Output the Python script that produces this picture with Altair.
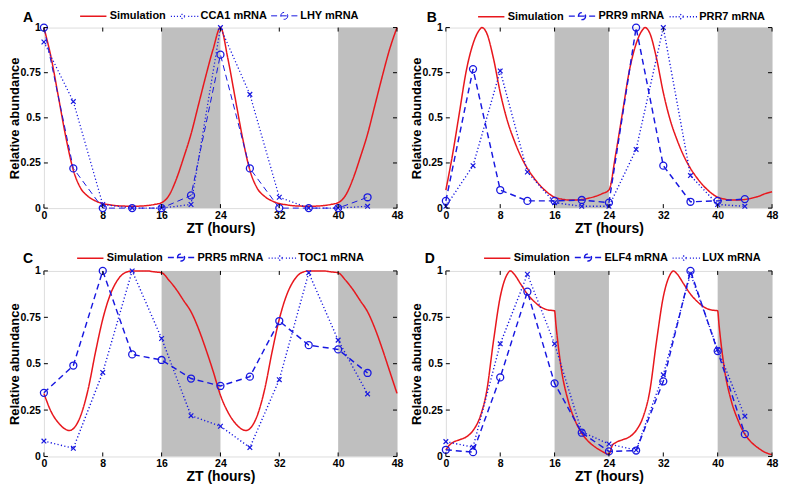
import altair as alt
import pandas as pd

# ---------------- data ----------------
ZT = [0, 4, 8, 12, 16, 20, 24, 28, 32, 36, 40, 44]
XTICKS = [0, 8, 16, 24, 32, 40, 48]
YTICKS = [0, 0.25, 0.5, 0.75, 1]
NIGHT_START = [16, 40]
NIGHT_END = [24, 48]

# Panel A
A_SIM_T = list(range(0, 49))
A_SIM_V = [1.0, 0.83, 0.61, 0.39, 0.21, 0.11, 0.065, 0.04, 0.025, 0.018, 0.013, 0.011, 0.01,
           0.011, 0.014, 0.02, 0.03, 0.07, 0.16, 0.28, 0.41, 0.57, 0.73, 0.88, 1.0,
           0.83, 0.61, 0.39, 0.21, 0.11, 0.065, 0.04, 0.025, 0.018, 0.013, 0.011, 0.01,
           0.011, 0.014, 0.02, 0.03, 0.07, 0.16, 0.28, 0.41, 0.57, 0.73, 0.88, 1.0]
A_CCA1 = [0.92, 0.59, 0.02, 0.0, 0.0, 0.02, 1.0, 0.63, 0.06, 0.0, 0.0, 0.01]
A_LHY = [1.0, 0.22, 0.0, 0.0, 0.0, 0.07, 0.85, 0.22, 0.0, 0.0, 0.0, 0.06]

# Panel B
B_SIM_T = [0, 1, 2, 3, 4, 5, 5.3, 6, 7, 8, 9, 10, 11, 12, 13, 14, 15, 16, 17, 18, 19, 20, 21, 22, 23,
           24, 25, 26, 27, 28, 29, 29.3, 30, 31, 32, 33, 34, 35, 36, 37, 38, 39, 40, 41, 42, 43, 44, 45, 46, 47, 48]
B_SIM_V = [0.10, 0.30, 0.53, 0.76, 0.91, 0.99, 1.0, 0.97, 0.83, 0.64, 0.49, 0.38, 0.29, 0.22, 0.165,
           0.12, 0.085, 0.06, 0.05, 0.045, 0.045, 0.048, 0.055, 0.065, 0.08,
           0.10, 0.30, 0.53, 0.76, 0.91, 0.99, 1.0, 0.97, 0.83, 0.64, 0.49, 0.38, 0.29, 0.22, 0.165,
           0.12, 0.085, 0.06, 0.05, 0.045, 0.045, 0.048, 0.055, 0.065, 0.08, 0.09]
B_PRR9 = [0.04, 0.77, 0.10, 0.04, 0.04, 0.045, 0.03, 1.0, 0.235, 0.035, 0.04, 0.05]
B_PRR7 = [0.01, 0.235, 0.76, 0.20, 0.03, 0.01, 0.01, 0.325, 1.0, 0.18, 0.02, 0.01]

# Panel C
C_SIM_T = [0, 1, 2, 3, 3.5, 4, 5, 6, 7, 8, 9, 10, 11, 12, 13, 14, 15, 16, 17, 18, 19, 20, 21, 22, 23,
           24, 25, 26, 27, 27.5, 28, 29, 30, 31, 32, 33, 34, 35, 36, 37, 38, 39, 40, 41, 42, 43, 44, 45, 46, 47, 48]
C_SIM_V = [0.34, 0.24, 0.18, 0.145, 0.14, 0.15, 0.22, 0.36, 0.56, 0.74, 0.87, 0.95, 0.99, 1.0, 1.0,
           1.0, 0.995, 0.99, 0.95, 0.9, 0.84, 0.78, 0.69, 0.58, 0.46,
           0.33, 0.24, 0.18, 0.145, 0.14, 0.15, 0.22, 0.36, 0.56, 0.74, 0.87, 0.95, 0.99, 1.0, 1.0,
           1.0, 0.995, 0.99, 0.95, 0.9, 0.84, 0.78, 0.69, 0.58, 0.46, 0.34]
C_PRR5 = [0.343, 0.49, 1.0, 0.55, 0.52, 0.42, 0.38, 0.43, 0.73, 0.60, 0.577, 0.45]
C_TOC1 = [0.083, 0.044, 0.453, 1.0, 0.636, 0.22, 0.163, 0.048, 0.414, 0.99, 0.627, 0.337]

# Panel D
D_SIM_T = [0, 0.5, 1, 2, 3, 4, 5, 6, 7, 8, 9, 9.5, 10, 11, 12, 13, 14, 15, 16, 16.2, 17, 18, 19, 20, 21, 22, 23,
           24, 24.5, 25, 26, 27, 28, 29, 30, 31, 32, 33, 33.5, 34, 35, 36, 37, 38, 39, 40, 40.2, 41, 42, 43, 44, 45, 46, 47, 48]
D_SIM_V = [0.035, 0.06, 0.075, 0.09, 0.105, 0.14, 0.21, 0.35, 0.62, 0.86, 0.98, 1.0, 0.985, 0.93, 0.875,
           0.835, 0.805, 0.79, 0.785, 0.71, 0.47, 0.30, 0.195, 0.125, 0.08, 0.05, 0.027,
           0.012, 0.06, 0.075, 0.09, 0.105, 0.14, 0.21, 0.35, 0.62, 0.86, 0.98, 1.0, 0.985, 0.93, 0.875,
           0.835, 0.805, 0.79, 0.785, 0.71, 0.47, 0.30, 0.195, 0.12, 0.075, 0.045, 0.022, 0.01]
D_ELF4 = [0.036, 0.023, 0.426, 0.888, 0.394, 0.128, 0.027, 0.032, 0.405, 1.0, 0.568, 0.12]
D_LUX = [0.08, 0.05, 0.607, 0.982, 0.607, 0.133, 0.067, 0.035, 0.44, 0.985, 0.577, 0.217]

# ---------------- styles ----------------
RED = "#e8171d"
BLUE = "#1818e0"
GRAY = "#bfbfbf"
FONT = "Liberation Sans"

X_PATH = "M-1,-1L1,1M-1,1L1,-1"

# legend symbol paths (unit = 5.5 px for size 121)
LEG_LINE = "M-2.4,0L2.4,0"
LEG_CIRC = ("M-2.4,0L-1.3,0M-0.64,0L0.64,0M1.3,0L2.4,0"
            "M0.64,0A0.64,0.64 0 1,1 -0.64,0A0.64,0.64 0 1,1 0.64,0")
_dots = "".join(f"M{a:.2f},0L{a + 0.2:.2f},0" for a in [-2.4, -1.85, -1.3, -0.75, 0.75, 1.3, 1.85, 2.4])
LEG_CROSS = _dots + "M-0.45,-0.45L0.45,0.45M-0.45,0.45L0.45,-0.45"


def panel(letter, sim_t, sim_v, circ_name, circ_v, cross_name, cross_v, order, W, H, lx, ly, let_x, let_y):
    sim_df = pd.DataFrame({"t": sim_t, "v": sim_v, "series": "Simulation"})
    dat_df = pd.concat([
        pd.DataFrame({"t": ZT, "v": circ_v, "series": circ_name}),
        pd.DataFrame({"t": ZT, "v": cross_v, "series": cross_name}),
    ])
    circ_df = pd.DataFrame({"t": ZT, "v": circ_v})
    cross_df = pd.DataFrame({"t": ZT, "v": cross_v})
    night_df = pd.DataFrame({"s": NIGHT_START, "e": NIGHT_END})
    xt_df = pd.DataFrame({"t": XTICKS})
    yt_df = pd.DataFrame({"v": YTICKS})

    common = dict(ticks=False, domain=False, grid=False, labelFlush=False, labelOverlap=False,
                  labelFont=FONT, labelFontSize=10.5, labelFontWeight="bold", labelColor="black",
                  titleFont=FONT, titleFontWeight="bold", titleColor="black")
    xscale = alt.Scale(domain=[0, 48], nice=False, zero=False)
    yscale = alt.Scale(domain=[0, 1], nice=False)
    xaxis = alt.Axis(values=XTICKS, title="ZT (hours)", labelPadding=2.5, titlePadding=0.5, titleFontSize=14, **common)
    yaxis = alt.Axis(values=YTICKS, title="Relative abundance", format=".2~f", labelPadding=3.5,
                     titlePadding=-1.9, titleFontSize=13, **common)
    X = alt.X("t:Q", scale=xscale, axis=xaxis)
    Y = alt.Y("v:Q", scale=yscale, axis=yaxis)

    dash_of = {"Simulation": [1, 0], circ_name: [6, 4], cross_name: [1.2, 2.3]}
    width_of = {"Simulation": 1.5, circ_name: 1.4, cross_name: 1.0}
    color_of = {"Simulation": RED, circ_name: BLUE, cross_name: BLUE}
    path_of = {"Simulation": LEG_LINE, circ_name: LEG_CIRC, cross_name: LEG_CROSS}

    shape_sig = (f"datum.value === '{order[0]}' ? '{path_of[order[0]]}' : "
                 f"(datum.value === '{order[1]}' ? '{path_of[order[1]]}' : '{path_of[order[2]]}')")
    sw_sig = (f"datum.value === '{order[0]}' ? {width_of[order[0]]} : "
              f"(datum.value === '{order[1]}' ? {width_of[order[1]]} : {width_of[order[2]]})")
    legend = alt.Legend(
        orient="none", legendX=lx, legendY=ly, direction="horizontal", title=None,
        labelFontSize=11, labelFontWeight="bold", labelFont=FONT, labelColor="black",
        symbolSize=121, labelOffset=10, columnPadding=1, padding=0,
        symbolType={"expr": shape_sig}, symbolStrokeWidth={"expr": sw_sig},
        symbolDash=[1, 0], symbolFillColor="transparent", symbolOpacity=1,
    )
    color = alt.Color("series:N", scale=alt.Scale(domain=order, range=[color_of[s] for s in order]), legend=legend)
    sdash = alt.StrokeDash("series:N", scale=alt.Scale(domain=order, range=[dash_of[s] for s in order]), legend=None)
    swidth = alt.StrokeWidth("series:N", scale=alt.Scale(domain=order, range=[width_of[s] for s in order]), legend=None)

    night = alt.Chart(night_df).mark_rect(color=GRAY).encode(
        x=alt.X("s:Q", scale=xscale, axis=xaxis), x2="e:Q", y=alt.datum(0, scale=yscale, axis=yaxis), y2=alt.datum(1))
    sim = alt.Chart(sim_df).mark_line(interpolate="monotone").encode(x=X, y=Y, color=color, strokeDash=sdash, strokeWidth=swidth)
    dat = alt.Chart(dat_df).mark_line().encode(x=X, y=Y, color=color, strokeDash=sdash, strokeWidth=swidth, detail="series:N")
    circ = alt.Chart(circ_df).mark_point(shape="circle", size=49, filled=False, color=BLUE, strokeWidth=1.3, opacity=1).encode(x=X, y=Y)
    cross = alt.Chart(cross_df).mark_point(shape=X_PATH, size=22, filled=False, color=BLUE, strokeWidth=1.2, opacity=1).encode(x=X, y=Y)
    xt_top = alt.Chart(xt_df).mark_rule(color="black", strokeWidth=1).encode(x=X, y=alt.value(0), y2=alt.value(4))
    xt_bot = alt.Chart(xt_df).mark_rule(color="black", strokeWidth=1).encode(x=X, y=alt.value(H), y2=alt.value(H - 4))
    yt_l = alt.Chart(yt_df).mark_rule(color="black", strokeWidth=1).encode(y=Y, x=alt.value(0), x2=alt.value(4))
    yt_r = alt.Chart(yt_df).mark_rule(color="black", strokeWidth=1).encode(y=Y, x=alt.value(W - 4), x2=alt.value(W))
    lab = alt.Chart(pd.DataFrame({"txt": [letter]})).mark_text(
        fontSize=14, fontWeight="bold", font=FONT, color="black", align="center", baseline="alphabetic"
    ).encode(text="txt:N", x=alt.value(let_x), y=alt.value(let_y))

    return alt.layer(night, sim, dat, circ, cross, xt_top, xt_bot, yt_l, yt_r, lab).properties(width=W, height=H)


pA = panel("A", A_SIM_T, A_SIM_V, "LHY mRNA", A_LHY, "CCA1 mRNA", A_CCA1,
           ["Simulation", "CCA1 mRNA", "LHY mRNA"], 354, 181, 43, -18, -16, -6)
pB = panel("B", B_SIM_T, B_SIM_V, "PRR9 mRNA", B_PRR9, "PRR7 mRNA", B_PRR7,
           ["Simulation", "PRR9 mRNA", "PRR7 mRNA"], 327, 181, 39, -18, -14, -6)
pC = panel("C", C_SIM_T, C_SIM_V, "PRR5 mRNA", C_PRR5, "TOC1 mRNA", C_TOC1,
           ["Simulation", "PRR5 mRNA", "TOC1 mRNA"], 354, 186, 40, -20, -16, -8)
pD = panel("D", D_SIM_T, D_SIM_V, "ELF4 mRNA", D_ELF4, "LUX mRNA", D_LUX,
           ["Simulation", "ELF4 mRNA", "LUX mRNA"], 327, 186, 45, -20, -16, -8)

RES = dict(color="independent", strokeDash="independent", strokeWidth="independent")
chart = alt.concat(pA, pB, pC, pD, columns=2, spacing={"row": 63, "column": 49}, bounds="flush").resolve_scale(
    **RES
).properties(padding=0).configure_view(
    stroke="black", strokeWidth=1
).configure(background="white")

chart.save("out.html", embed_options={"renderer": "svg", "actions": False})
